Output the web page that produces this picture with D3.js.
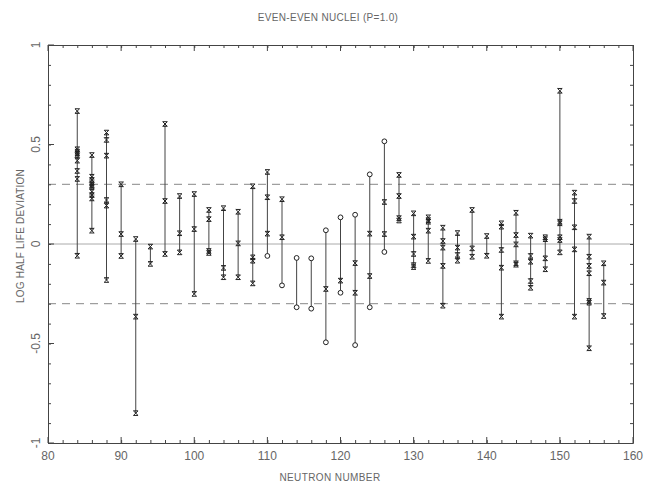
<!DOCTYPE html>
<html>
<head>
<meta charset="utf-8">
<script src="https://cdn.jsdelivr.net/npm/d3@7"></script>
<style>
  body { margin: 0; background: #fff; }
  svg { display: block; }
  text { font-family: 'Liberation Sans', Arial, sans-serif; fill: #666; }
</style>
</head>
<body>
<div id="chart"></div>
<script>
const neutrons = [84, 86, 88, 90, 92, 94, 96, 98, 100, 102, 104, 106, 108, 110, 112, 114, 116, 118, 120,
  122, 124, 126, 128, 130, 132, 134, 136, 138, 140, 142, 144, 146, 148, 150, 152, 154, 156];

// asterisk-type points, one list per neutron number
const crossValues = [
  [0.668, 0.476, 0.464, 0.456, 0.447, 0.419, 0.367, 0.327, -0.059],
  [0.447, 0.338, 0.322, 0.305, 0.296, 0.288, 0.263, 0.246, 0.229, 0.067],
  [0.56, 0.523, 0.444, 0.221, 0.193, -0.181],
  [0.30, 0.05, -0.06],
  [0.025, -0.365, -0.85],
  [-0.013, -0.10],
  [0.603, 0.216, -0.05],
  [0.241, 0.054, -0.042],
  [0.251, 0.075, -0.251],
  [0.171, 0.125, -0.035, -0.045],
  [0.18, -0.12, -0.167],
  [0.162, 0.003, -0.167],
  [0.29, -0.067, -0.084, -0.198],
  [0.362, 0.235, 0.052],
  [0.225, 0.034],
  [],
  [],
  [-0.226],
  [-0.184],
  [-0.096, -0.245],
  [0.052, -0.161],
  [0.211, 0.05],
  [0.347, 0.241, 0.13, 0.118],
  [0.154, 0.037, -0.05, -0.106, -0.116],
  [0.134, 0.12, 0.112, 0.067, -0.085],
  [0.082, 0.015, -0.018, -0.11, -0.31],
  [0.055, -0.018, -0.055, -0.084],
  [0.171, -0.022, -0.064],
  [0.04, -0.059],
  [0.104, 0.087, -0.03, -0.119, -0.365],
  [0.157, 0.045, -0.002, -0.097, -0.104],
  [0.042, -0.06, -0.089, -0.186, -0.22],
  [0.034, 0.024, -0.072, -0.127],
  [0.77, 0.112, 0.104, 0.034, 0.02, -0.042],
  [0.258, 0.216, 0.084, -0.027, -0.365],
  [0.037, -0.064, -0.11, -0.147, -0.286, -0.295, -0.524],
  [-0.097, -0.194, -0.362]
];

// open-circle points
const circleValues = [
  [], [], [], [], [], [], [], [], [], [], [], [], [],
  [-0.06],
  [-0.208],
  [-0.07, -0.318],
  [-0.072, -0.325],
  [0.069, -0.494],
  [0.134, -0.245],
  [0.147, -0.508],
  [0.35, -0.318],
  [0.516, -0.04],
  [], [], [], [], [], [], [], [], [], [], [], [], [], [], []
];

const xTickLabels = [80, 90, 100, 110, 120, 130, 140, 150, 160];
const yTickLabels = [-1, -0.5, 0, 0.5, 1];
const limitLines = [0.3, -0.3];

const margin = { top: 45, right: 13, bottom: 39, left: 48 };
const width = 646 - margin.left - margin.right;
const height = 482 - margin.top - margin.bottom;

const svgRoot = d3.select('#chart')
  .append('svg')
  .attr('width', 646)
  .attr('height', 482);

const svg = svgRoot.append('g')
  .attr('transform', `translate(${margin.left},${margin.top})`);

const xScale = d3.scaleLinear().domain([80, 160]).range([0, width]);
const yScale = d3.scaleLinear().domain([-1, 1]).range([height, 0]);

// reference lines
svg.append('line')
  .attr('x1', 0).attr('x2', width)
  .attr('y1', yScale(0)).attr('y2', yScale(0))
  .attr('stroke', '#aaa').attr('stroke-width', 1);

svg.selectAll('.limit')
  .data(limitLines)
  .enter()
  .append('line')
  .attr('class', 'limit')
  .attr('x1', 0).attr('x2', width)
  .attr('y1', d => yScale(d)).attr('y2', d => yScale(d))
  .attr('stroke', '#888')
  .attr('stroke-width', 1)
  .attr('stroke-dasharray', '8,6');

// axes: ticks point inward, every 2 neutrons / every 0.1
const xMinor = d3.range(80, 161, 2);
const yMinor = d3.range(-10, 11).map(d => d / 10);

function axisTicks(g, axis) {
  g.call(axis);
  g.select('.domain').attr('stroke', '#444');
  g.selectAll('.tick line').attr('stroke', '#444');
  g.selectAll('.tick text').remove();
}

svg.append('g')
  .attr('transform', `translate(0,${height})`)
  .call(g => axisTicks(g, d3.axisTop(xScale).tickValues(xMinor).tickSizeOuter(0)
    .tickSizeInner(3)));
svg.append('g')
  .call(g => axisTicks(g, d3.axisBottom(xScale).tickValues(xMinor).tickSizeOuter(0)
    .tickSizeInner(3)));
svg.append('g')
  .call(g => axisTicks(g, d3.axisRight(yScale).tickValues(yMinor).tickSizeOuter(0)
    .tickSizeInner(3)));
svg.append('g')
  .attr('transform', `translate(${width},0)`)
  .call(g => axisTicks(g, d3.axisLeft(yScale).tickValues(yMinor).tickSizeOuter(0)
    .tickSizeInner(3)));

// longer major ticks
svg.selectAll('.xmajor')
  .data(xTickLabels)
  .enter()
  .append('line')
  .attr('x1', d => xScale(d)).attr('x2', d => xScale(d))
  .attr('y1', height).attr('y2', height - 6)
  .attr('stroke', '#444');
svg.selectAll('.xmajortop')
  .data(xTickLabels)
  .enter()
  .append('line')
  .attr('x1', d => xScale(d)).attr('x2', d => xScale(d))
  .attr('y1', 0).attr('y2', 6)
  .attr('stroke', '#444');
svg.selectAll('.ymajor')
  .data(yTickLabels)
  .enter()
  .append('line')
  .attr('x1', 0).attr('x2', 6)
  .attr('y1', d => yScale(d)).attr('y2', d => yScale(d))
  .attr('stroke', '#444');

// tick labels
svg.selectAll('.xlabel')
  .data(xTickLabels)
  .enter()
  .append('text')
  .attr('x', d => xScale(d))
  .attr('y', height + 17)
  .attr('text-anchor', 'middle')
  .attr('font-size', '12px')
  .text(d => d);

svg.selectAll('.ylabel')
  .data(yTickLabels)
  .enter()
  .append('text')
  .attr('transform', d => `translate(-8,${yScale(d)}) rotate(-90)`)
  .attr('text-anchor', 'middle')
  .attr('font-size', '12px')
  .text(d => d);

// vertical spans
const spans = neutrons.map((n, i) => {
  const all = crossValues[i].concat(circleValues[i]);
  return { n: n, lo: d3.min(all), hi: d3.max(all) };
});

svg.selectAll('.span')
  .data(spans)
  .enter()
  .append('line')
  .attr('class', 'span')
  .attr('x1', d => xScale(d.n)).attr('x2', d => xScale(d.n))
  .attr('y1', d => yScale(d.lo)).attr('y2', d => yScale(d.hi))
  .attr('stroke', '#444')
  .attr('stroke-width', 1);

const crossPoints = [];
const circlePoints = [];
neutrons.forEach((n, i) => {
  crossValues[i].forEach(v => crossPoints.push({ n: n, v: v }));
  circleValues[i].forEach(v => circlePoints.push({ n: n, v: v }));
});

const s = 2.3;
svg.selectAll('.cross')
  .data(crossPoints)
  .enter()
  .append('path')
  .attr('class', 'cross')
  .attr('transform', d => `translate(${xScale(d.n)},${yScale(d.v)})`)
  .attr('d', `M${-s},${-s}L${s},${-s}L${-s},${s}L${s},${s}Z`)
  .attr('fill', 'none')
  .attr('stroke', '#222')
  .attr('stroke-width', 1);

svg.selectAll('.circle')
  .data(circlePoints)
  .enter()
  .append('circle')
  .attr('class', 'circle')
  .attr('cx', d => xScale(d.n))
  .attr('cy', d => yScale(d.v))
  .attr('r', 2.4)
  .attr('fill', '#fff')
  .attr('stroke', '#222')
  .attr('stroke-width', 1);

// titles
svgRoot.append('text')
  .attr('x', 328)
  .attr('y', 21)
  .attr('text-anchor', 'middle')
  .attr('font-size', '10px')
  .attr('letter-spacing', '0.3px')
  .text('EVEN-EVEN NUCLEI  (P=1.0)');

svgRoot.append('text')
  .attr('x', 330)
  .attr('y', 481)
  .attr('text-anchor', 'middle')
  .attr('font-size', '10px')
  .attr('letter-spacing', '0.4px')
  .text('NEUTRON NUMBER');

svgRoot.append('text')
  .attr('transform', 'translate(24,236) rotate(-90)')
  .attr('text-anchor', 'middle')
  .attr('font-size', '10px')
  .attr('letter-spacing', '0.2px')
  .text('LOG HALF LIFE DEVIATION');
</script>
</body>
</html>
